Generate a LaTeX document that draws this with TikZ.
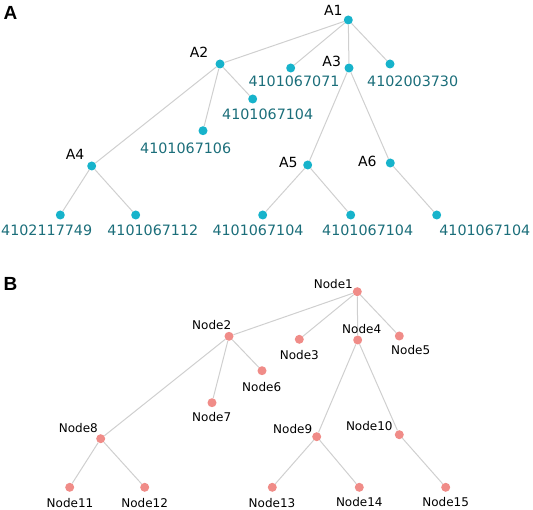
\documentclass[tikz,border=0pt]{standalone}
\usepackage{fontspec}
\setmainfont{DejaVu Sans}
\newfontfamily\panelfont{Liberation Sans}
\definecolor{dotA}{HTML}{17B3CB}
\definecolor{txtA}{HTML}{1B6E7A}
\definecolor{dotB}{HTML}{F08C88}
\definecolor{edgec}{HTML}{CFCFCF}
\begin{document}
\begin{tikzpicture}[x=1pt,y=-1pt,
  adot/.style={circle,fill=dotA,inner sep=0pt,minimum size=9pt},
  bdot/.style={circle,fill=dotB,inner sep=0pt,minimum size=9pt},
  numlab/.style={text=txtA,font=\fontsize{14.3}{14.3}\selectfont,inner sep=0pt,anchor=center},
  alab/.style={text=black,font=\fontsize{14}{14}\selectfont,inner sep=0pt,anchor=center},
  blab/.style={text=black,font=\fontsize{12}{12}\selectfont,inner sep=0pt,anchor=center},
  edge/.style={draw=edgec,line width=1pt},
  panel/.style={font=\panelfont\bfseries\fontsize{19}{19}\selectfont,inner sep=0pt,anchor=center}]
\useasboundingbox (0,0) rectangle (533,510);
% panel letters
\node[panel] (pA) at (10.5,13) {A};
\node[panel] (pB) at (10.5,284) {B};
% ---------- panel A ----------
\node[adot] (a1) at (348.3,20) {};
\node[adot] (a2) at (220,64) {};
\node[adot] (a3) at (349,68) {};
\node[adot] (n071) at (290.7,68) {};
\node[adot] (n730) at (390,64) {};
\node[adot] (n104a) at (252.7,99) {};
\node[adot] (n106) at (203,130.7) {};
\node[adot] (a4) at (91.7,166) {};
\node[adot] (a5) at (307.7,165) {};
\node[adot] (a6) at (390.3,163) {};
\node[adot] (n749) at (60.3,215) {};
\node[adot] (n112) at (135.7,215) {};
\node[adot] (n104b) at (262.7,215) {};
\node[adot] (n104c) at (350.7,215) {};
\node[adot] (n104d) at (436.7,215) {};
\draw[edge] (a1) -- (a2);
\draw[edge] (a1) -- (n071);
\draw[edge] (a1) -- (a3);
\draw[edge] (a1) -- (n730);
\draw[edge] (a2) -- (a4);
\draw[edge] (a2) -- (n106);
\draw[edge] (a2) -- (n104a);
\draw[edge] (a3) -- (a5);
\draw[edge] (a3) -- (a6);
\draw[edge] (a4) -- (n749);
\draw[edge] (a4) -- (n112);
\draw[edge] (a5) -- (n104b);
\draw[edge] (a5) -- (n104c);
\draw[edge] (a6) -- (n104d);
% labels A
\node[alab] (la1) at (333.3,10) {A1};
\node[alab] (la2) at (199,52.7) {A2};
\node[alab] (la3) at (331.7,61.7) {A3};
\node[alab] (la4) at (75,154.3) {A4};
\node[alab] (la5) at (288.3,162.7) {A5};
\node[alab] (la6) at (367.3,161.7) {A6};
\node[numlab] (l071) at (294,81) {4101067071};
\node[numlab] (l730) at (412.7,80.8) {4102003730};
\node[numlab] (l104a) at (267.7,114.5) {4101067104};
\node[numlab] (l106) at (185.7,148) {4101067106};
\node[numlab] (l749) at (46.7,230) {4102117749};
\node[numlab] (l112) at (152.8,230) {4101067112};
\node[numlab] (l104b) at (258,230) {4101067104};
\node[numlab] (l104c) at (367.7,230) {4101067104};
\node[numlab] (l104d) at (484.8,230) {4101067104};
% ---------- panel B ----------
\node[bdot] (b1) at (357.3,291.7) {};
\node[bdot] (b2) at (229,336.3) {};
\node[bdot] (b3) at (299.3,339.3) {};
\node[bdot] (b4) at (357.7,340) {};
\node[bdot] (b5) at (399.3,336) {};
\node[bdot] (b6) at (262,370.7) {};
\node[bdot] (b7) at (212,402.7) {};
\node[bdot] (b8) at (100.7,438.7) {};
\node[bdot] (b9) at (316.7,436.7) {};
\node[bdot] (b10) at (399.3,434.7) {};
\node[bdot] (b11) at (69.7,487.3) {};
\node[bdot] (b12) at (144.7,487.3) {};
\node[bdot] (b13) at (272.3,487.3) {};
\node[bdot] (b14) at (359.3,487.3) {};
\node[bdot] (b15) at (445.7,487.3) {};
\draw[edge] (b1) -- (b2);
\draw[edge] (b1) -- (b3);
\draw[edge] (b1) -- (b4);
\draw[edge] (b1) -- (b5);
\draw[edge] (b2) -- (b8);
\draw[edge] (b2) -- (b7);
\draw[edge] (b2) -- (b6);
\draw[edge] (b4) -- (b9);
\draw[edge] (b4) -- (b10);
\draw[edge] (b8) -- (b11);
\draw[edge] (b8) -- (b12);
\draw[edge] (b9) -- (b13);
\draw[edge] (b9) -- (b14);
\draw[edge] (b10) -- (b15);
\node[blab] (lb1) at (333.3,284) {Node1};
\node[blab] (lb2) at (211.7,325) {Node2};
\node[blab] (lb3) at (299.3,355) {Node3};
\node[blab] (lb4) at (361.7,329) {Node4};
\node[blab] (lb5) at (410.7,350) {Node5};
\node[blab] (lb6) at (261.7,386.7) {Node6};
\node[blab] (lb7) at (211.7,416.7) {Node7};
\node[blab] (lb8) at (78.3,428.3) {Node8};
\node[blab] (lb9) at (292.7,429.3) {Node9};
\node[blab] (lb10) at (369.3,426) {Node10};
\node[blab] (lb11) at (70,502.7) {Node11};
\node[blab] (lb12) at (144.7,502.7) {Node12};
\node[blab] (lb13) at (272,502.7) {Node13};
\node[blab] (lb14) at (359.3,502) {Node14};
\node[blab] (lb15) at (445.7,502) {Node15};
\end{tikzpicture}
\end{document}
